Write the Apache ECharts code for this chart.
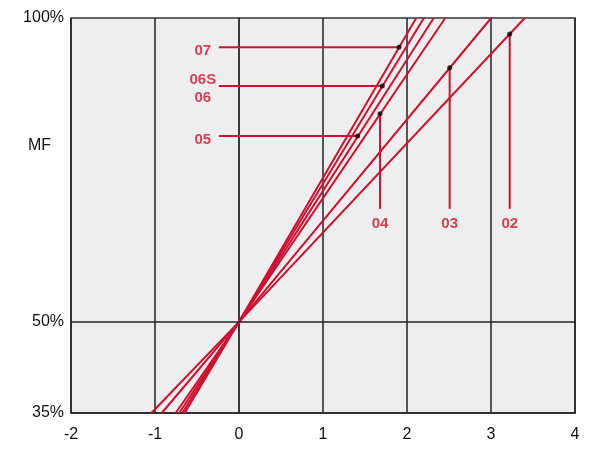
<!DOCTYPE html>
<html>
<head>
<meta charset="utf-8">
<script src="https://cdn.jsdelivr.net/npm/echarts@6/dist/echarts.min.js"></script>
<style>
html,body{margin:0;padding:0;background:#fff;}
#chart{width:606px;height:452px;}
</style>
</head>
<body>
<div id="chart"></div>
<script>
// Series names (curves)
var curveNames = ['07', '06S', '05', '04', '03', '02'];
// x where each curve leaves the plot at the bottom (35%) and top (100%)
var curveBottomX = [-0.646, -0.675, -0.711, -0.754, -0.920, -1.043];
var curveTopX = [2.110, 2.201, 2.318, 2.456, 3.002, 3.402];
var pivot = [0, 50];
// marked points on each curve
var dotX = [1.905, 1.706, 1.413, 1.679, 2.508, 3.223];
var dotY = [95.18, 88.8, 80.58, 84.25, 91.8, 97.37];
// label texts, leader direction
var labelTexts = ['07', '06S\n06', '05', '04', '03', '02'];
var leaderDir = ['h', 'h', 'h', 'v', 'v', 'v'];
var leaderHX = -0.24;   // x where horizontal leaders end
var leaderVY = 68.6;    // y where vertical leaders end
// axes
var xTicks = [-2, -1, 0, 1, 2, 3, 4];
var yTickLabels = [35, 50, 100];

var RED = '#d0102f';
var GRID = '#222222';

var series = [];
// 50% reference line
series.push({
  type: 'line', data: [], silent: true, z: 1,
  markLine: {
    silent: true, symbol: 'none', label: {show: false},
    lineStyle: {color: GRID, width: 1.5, type: 'solid'},
    data: [{yAxis: 50}]
  }
});
curveNames.forEach(function (n, i) {
  series.push({
    name: n, type: 'line', showSymbol: false, clip: true, z: 3,
    lineStyle: {color: RED, width: 2},
    data: [[curveBottomX[i], 35], pivot, [curveTopX[i], 100]]
  });
  var start = leaderDir[i] === 'h' ? [leaderHX, dotY[i]] : [dotX[i], leaderVY];
  series.push({
    type: 'line', showSymbol: false, z: 3,
    lineStyle: {color: RED, width: 2},
    data: [start, [dotX[i], dotY[i]]]
  });
});
// label anchors
var labelData = curveNames.map(function (n, i) {
  var start = leaderDir[i] === 'h' ? [leaderHX, dotY[i]] : [dotX[i], leaderVY];
  return {
    value: start,
    label: {
      show: true, formatter: labelTexts[i], position: 'inside',
      offset: leaderDir[i] === 'h' ? (i === 1 ? [-16, 3] : [-16, 4]) : [0, 15.5],
      align: 'center', verticalAlign: 'middle',
      color: RED, fontWeight: 'bold', fontSize: 15, lineHeight: 18,
      fontFamily: 'Liberation Sans, Arial, sans-serif'
    }
  };
});
series.push({
  type: 'scatter', symbolSize: 1, itemStyle: {color: 'rgba(0,0,0,0)'}, z: 5,
  data: labelData
});
// dots
series.push({
  type: 'scatter', symbolSize: 5, itemStyle: {color: '#000'}, z: 6,
  data: dotX.map(function (x, i) { return [x, dotY[i]]; })
});

var chart = echarts.init(document.getElementById('chart'), null, {renderer: 'canvas'});
chart.setOption({
  animation: false,
  backgroundColor: '#ffffff',
  textStyle: {fontFamily: 'Liberation Sans, Arial, sans-serif'},
  grid: {
    left: 71, right: 31, top: 18, bottom: 39,
    show: true, backgroundColor: '#eeeeee', borderColor: '#333', borderWidth: 1.5
  },
  xAxis: {
    type: 'value', min: xTicks[0], max: xTicks[xTicks.length - 1], interval: 1,
    axisLine: {show: true, lineStyle: {color: GRID, width: 1.5}},
    axisTick: {show: false},
    splitLine: {show: true, lineStyle: {color: GRID, width: 1.5}},
    axisLabel: {color: '#111', fontSize: 16, margin: 14,
      formatter: function (v) { return xTicks.indexOf(v) >= 0 ? String(v) : ''; }}
  },
  yAxis: {
    type: 'value', min: 35, max: 100, interval: 5,
    axisLine: {show: true, lineStyle: {color: '#333', width: 1.5}},
    axisTick: {show: false},
    splitLine: {show: false},
    axisLabel: {color: '#111', fontSize: 16, margin: 7, showMinLabel: true, showMaxLabel: true,
      formatter: function (v) { return yTickLabels.indexOf(v) >= 0 ? v + '%' : ''; }}
  },
  graphic: [{
    type: 'text', left: 28, top: 138,
    style: {text: 'MF', fill: '#111', fontSize: 16, fontFamily: 'Liberation Sans, Arial, sans-serif'}
  }],
  series: series
});
</script>
</body>
</html>
